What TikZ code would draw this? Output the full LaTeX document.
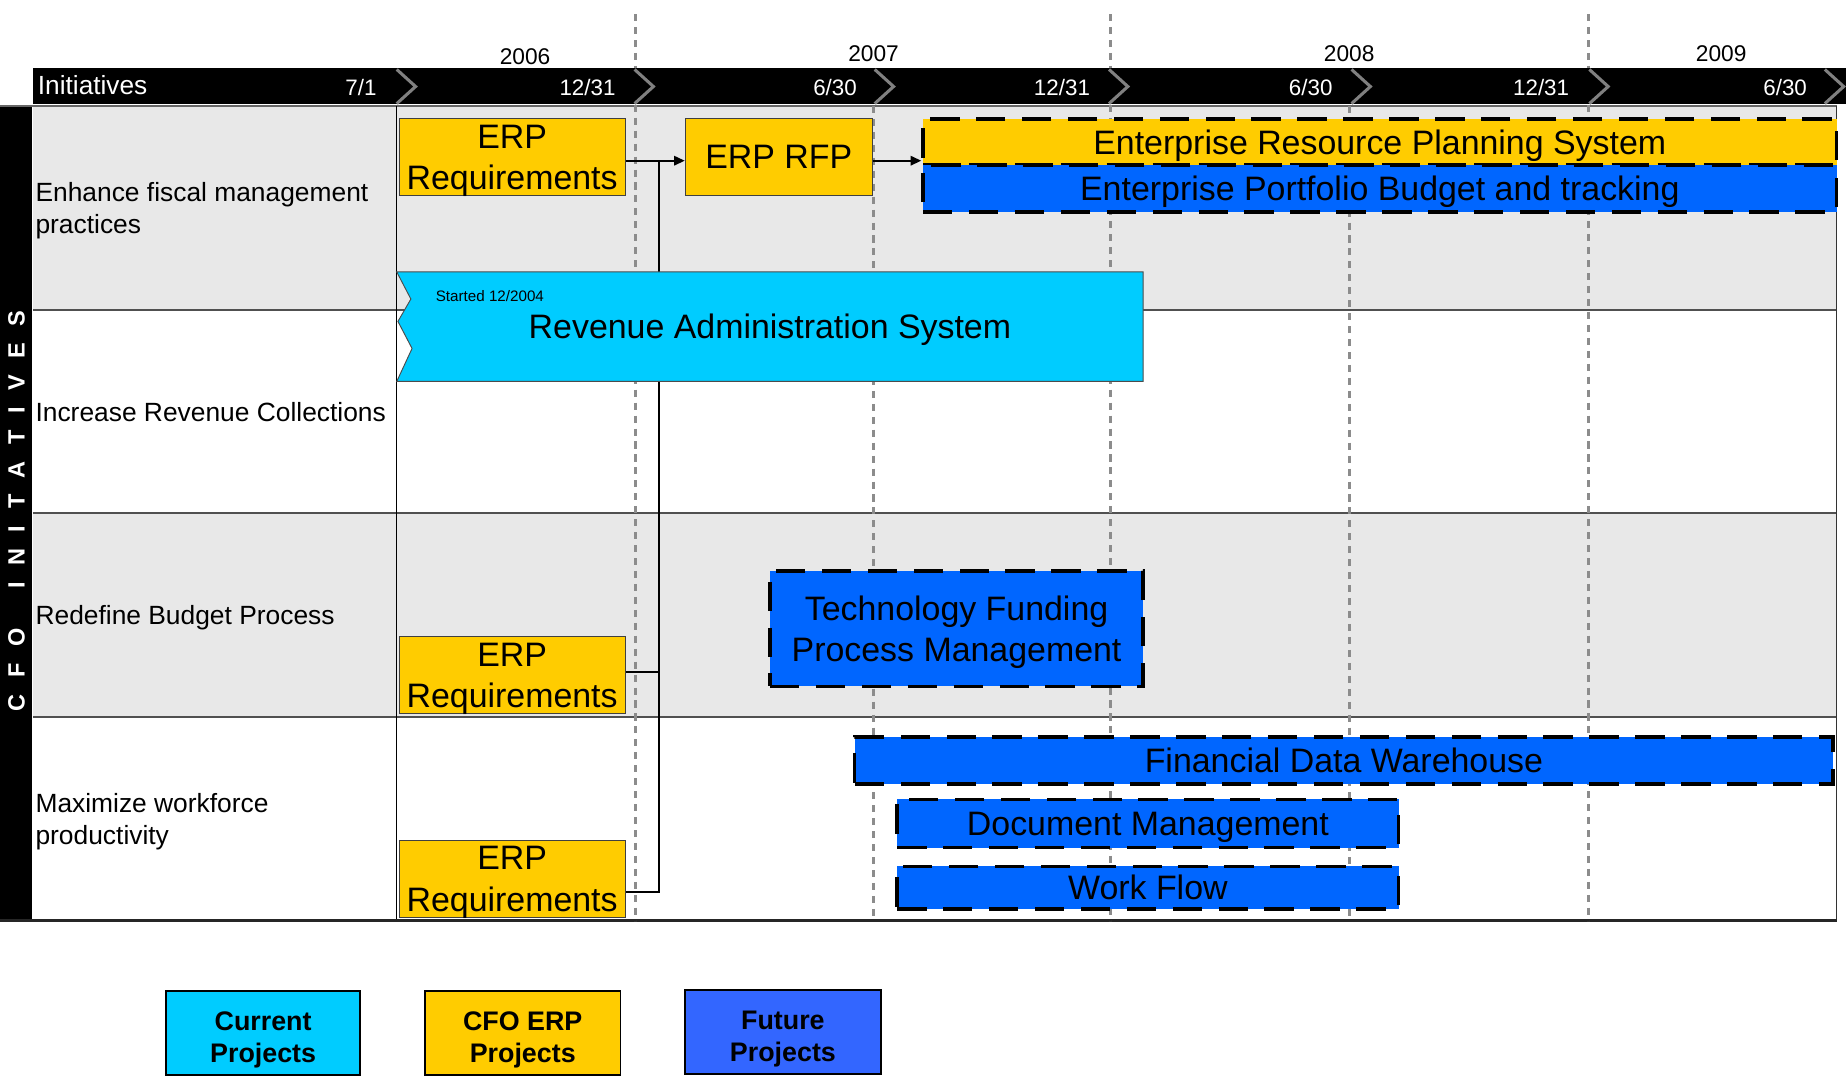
\documentclass[tikz,border=0pt]{standalone}
\usepackage{fontspec}
\setmainfont{Liberation Sans}
\usetikzlibrary{arrows.meta}
\definecolor{ylw}{HTML}{FFCC00}
\definecolor{cyn}{HTML}{00CCFF}
\definecolor{blu}{HTML}{0066FF}
\definecolor{lblu}{HTML}{3366FF}
\definecolor{rowgray}{HTML}{E8E8E8}
\definecolor{dashgray}{HTML}{8C8C8C}
\definecolor{chevgray}{HTML}{808080}
\definecolor{gridline}{HTML}{505050}
\newcommand{\legstrut}{\rule{0pt}{22.5pt}}
\begin{document}
\begin{tikzpicture}[x=1pt,y=-1pt,
  lab/.style={font=\fontsize{22.4}{27}\selectfont, anchor=west, align=left, inner sep=0pt, text depth=0pt},
  hdr/.style={font=\fontsize{19}{22}\selectfont, text=white, inner sep=0pt, anchor=base east},
  yr/.style={font=\fontsize{19.3}{22}\selectfont, inner sep=0pt, anchor=base},
  cfobox/.style={draw=black!75, line width=0.8pt, fill=ylw, align=center, inner sep=0pt, text depth=0pt, font=\fontsize{28.8}{35}\selectfont},
  futbox/.style={draw=black, line width=3pt, dash pattern=on 25pt off 14pt, fill=blu, align=center, inner sep=0pt, text depth=0pt, font=\fontsize{28.8}{35}\selectfont},
  legbox/.style={draw=black, line width=1.5pt, align=center, inner sep=0pt, text depth=0pt, font=\bfseries\fontsize{22.8}{27}\selectfont},
  yearline/.style={draw=dashgray, line width=2.6pt, dash pattern=on 6pt off 5pt},
  chev/.style={draw=chevgray, line width=2.6pt, line join=miter},
  conn/.style={draw=black, line width=1.5pt},
  tip/.style={-{Triangle[length=9pt,width=8pt]}}
]
\useasboundingbox (0,0) rectangle (1568,915);

% rows
\fill[rowgray] (28,90) rectangle (1560,263);
\fill[white] (28,263) rectangle (1560,436);
\fill[rowgray] (28,436) rectangle (1560,609);
\fill[white] (28,609) rectangle (1560,782);
\fill[black] (0,90) rectangle (27,782);
\draw[gridline, line width=1.5pt] (28,263) -- (1560,263);
\draw[gridline, line width=1.5pt] (28,436) -- (1560,436);
\draw[gridline, line width=1.5pt] (28,609) -- (1560,609);
\draw[black!60, line width=1pt] (0,90) -- (1560,90);
\draw[black, line width=0.8pt] (337,90) -- (337,782);
\draw[black!80, line width=1pt] (1560,90) -- (1560,782);
\draw[black!85, line width=2pt] (0,782) -- (1560,782);

% dashed time lines
\draw[yearline] (540,12) -- (540,782);
\draw[yearline] (943,12) -- (943,782);
\draw[yearline] (1349,12) -- (1349,782);
\draw[yearline] (742,90) -- (742,782);
\draw[yearline] (1146,90) -- (1146,782);

% header bar
\fill[black] (28,58) rectangle (1568,88);
\node[font=\fontsize{22.3}{26}\selectfont, text=white, inner sep=0pt, anchor=base west] (init) at (32,80) {Initiatives};
\foreach \cx/\nm in {337/c1,539/c2,743/c3,942/c4,1148/c5,1350/c6,1550/c7}{
  \draw[chev] (\cx,59) -- (\cx+16,73.5) -- (\cx,88);
}
\node[hdr] (d1) at (320,81) {7/1};
\node[hdr] (d2) at (523,81) {12/31};
\node[hdr] (d3) at (728,81) {6/30};
\node[hdr] (d4) at (926,81) {12/31};
\node[hdr] (d5) at (1132,81) {6/30};
\node[hdr] (d6) at (1333,81) {12/31};
\node[hdr] (d7) at (1535,81) {6/30};
\node[yr] (y6) at (446,55) {2006};
\node[yr] (y7) at (742,52) {2007};
\node[yr] (y8) at (1146,52) {2008};
\node[yr] (y9) at (1462,52) {2009};

% side label
\node[rotate=90, text=white, inner sep=0pt, font=\bfseries\fontsize{20}{20}\selectfont] (side) at (14,434)
  {C\hspace{14pt}F\hspace{14pt}O\hspace{34pt}I\hspace{14pt}N\hspace{14pt}I\hspace{14pt}T\hspace{14pt}A\hspace{14pt}T\hspace{14pt}I\hspace{14pt}V\hspace{14pt}E\hspace{14pt}S};

% row labels
\node[lab] (l1) at (30,176.5) {Enhance fiscal management\\practices};
\node[lab] (l2) at (30,349.5) {Increase Revenue Collections};
\node[lab] (l3) at (30,522.5) {Redefine Budget Process};
\node[lab] (l4) at (30,695.5) {Maximize workforce\\productivity};

% ERP boxes
\node[cfobox, minimum width=192pt, minimum height=65pt] (erp1) at (435,133.5) {ERP\\Requirements};
\node[cfobox, minimum width=159pt, minimum height=65pt] (rfp) at (661.5,133.5) {ERP RFP};
\node[cfobox, minimum width=192pt, minimum height=65pt] (erp3) at (435,573.5) {ERP\\Requirements};
\node[cfobox, minimum width=192pt, minimum height=65pt] (erp4) at (435,746.5) {ERP\\Requirements};

% connectors
\coordinate (jx) at (560,0);
\coordinate (a1) at ([yshift=-3pt]erp1.east);
\coordinate (a3) at ([yshift=3pt]erp3.east);
\coordinate (a4) at ([yshift=-11pt]erp4.east);
\coordinate (r1) at ([yshift=-3pt]rfp.east);
\draw[conn] (a1 -| jx) -- (a4 -| jx) -- (a4);
\draw[conn] (a3) -- (a3 -| jx);

% revenue administration system
\filldraw[fill=cyn, draw=black!70, line width=0.8pt]
  (337,231) -- (971,231) -- (971,324) -- (337,324) -- (350,296) -- (338,273) -- (349,254) -- cycle;
\node[inner sep=0pt, text depth=0pt, font=\fontsize{28.8}{35}\selectfont] (ras) at (654,277) {Revenue Administration System};
\node[inner sep=0pt, anchor=base west, font=\fontsize{12.9}{15}\selectfont] (rasst) at (370,256) {Started 12/2004};

% future / ERP system bars
\node[futbox, fill=ylw, minimum width=776pt, minimum height=39pt] (ers) at (1172,120.5) {Enterprise Resource Planning System};
\node[futbox, minimum width=776pt, minimum height=40pt] (epb) at (1172,160) {Enterprise Portfolio Budget and tracking};
\node[futbox, minimum width=317pt, minimum height=98pt] (tfp) at (812.5,534) {Technology Funding\\Process Management};
\node[futbox, minimum width=831pt, minimum height=40pt] (fdw) at (1141.5,646) {Financial Data Warehouse};
\node[futbox, minimum width=426pt, minimum height=41pt] (doc) at (975,699.5) {Document Management};
\node[futbox, minimum width=426pt, minimum height=36pt] (wf) at (975,754) {Work Flow};

\draw[conn, tip] (a1) -- (a1 -| rfp.west);
\draw[conn, tip] (r1) -- (r1 -| ers.west);

% legend
\node[legbox, fill=cyn, minimum width=165pt, minimum height=71pt] (lg1) at (223.5,877.5) {\legstrut Current\\Projects};
\node[legbox, fill=ylw, minimum width=166pt, minimum height=71pt] (lg2) at (444,877.5) {\legstrut CFO ERP\\Projects};
\node[legbox, fill=lblu, minimum width=166pt, minimum height=71pt] (lg3) at (665,876.5) {\legstrut Future\\Projects};
\end{tikzpicture}
\end{document}
